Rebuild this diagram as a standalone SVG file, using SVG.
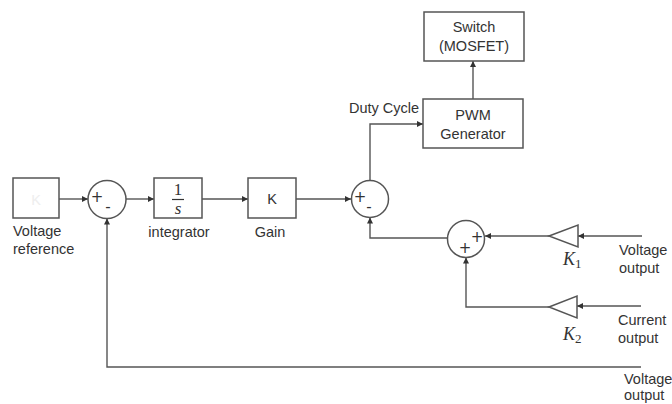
<svg xmlns="http://www.w3.org/2000/svg" width="672" height="404" viewBox="0 0 672 404">
<defs>
<marker id="arr" viewBox="0 0 10 10" refX="10" refY="5" markerWidth="6" markerHeight="6" markerUnits="userSpaceOnUse" orient="auto">
<path d="M0,0 L10,5 L0,10 z" fill="#333"/>
</marker>
<style>
.blk{fill:#fff;stroke:#555;stroke-width:1.5}
.ln{fill:none;stroke:#555;stroke-width:1.4}
.t{font-family:"Liberation Sans",Arial,sans-serif;font-size:14.5px;fill:#333}
.c{text-anchor:middle}
.m{font-family:"Liberation Serif","Times New Roman",serif;font-style:italic;fill:#333}
.sg{font-family:"DejaVu Sans",sans-serif;font-size:15px;fill:#333;text-anchor:middle}
</style>
</defs>
<rect width="672" height="404" fill="#fff"/>

<g id="connectors" class="ln">
<line x1="59" y1="199" x2="88" y2="199" marker-end="url(#arr)"/>
<line x1="126" y1="199" x2="154" y2="199" marker-end="url(#arr)"/>
<line x1="202" y1="199" x2="248" y2="199" marker-end="url(#arr)"/>
<line x1="296" y1="199" x2="351" y2="199" marker-end="url(#arr)"/>
<polyline points="370,180.5 370,124 423,124" marker-end="url(#arr)"/>
<line x1="473" y1="99" x2="473" y2="61" marker-end="url(#arr)"/>
<line x1="642" y1="236" x2="578" y2="236" marker-end="url(#arr)"/>
<line x1="549" y1="236" x2="485" y2="236" marker-end="url(#arr)"/>
<polyline points="447.5,238 370,238 370,217.5" marker-end="url(#arr)"/>
<line x1="641" y1="306" x2="577" y2="306" marker-end="url(#arr)"/>
<polyline points="549,307 466,307 466,257.5" marker-end="url(#arr)"/>
<polyline points="641,367 107,367 107,218.5" marker-end="url(#arr)"/>
</g>

<g id="vref">
<rect class="blk" x="13" y="178" width="46" height="40"/>
<text class="t c" x="36" y="205" style="fill:#eeeeee">K</text>
<text class="t" x="13" y="236">Voltage</text>
<text class="t" x="13" y="254">reference</text>
</g>

<g id="sum1">
<circle class="blk" cx="107" cy="199.5" r="19"/>
<text class="sg" x="97" y="202">+</text>
<text class="sg" x="108" y="212">-</text>
</g>

<g id="integrator">
<rect class="blk" x="154" y="178" width="48" height="40"/>
<text class="m c" x="178" y="195" font-size="17" style="font-style:normal">1</text>
<line x1="172" y1="199.5" x2="184" y2="199.5" stroke="#333" stroke-width="1.2"/>
<text class="m c" x="178" y="214" font-size="17">s</text>
<text class="t c" x="179" y="237">integrator</text>
</g>

<g id="gain">
<rect class="blk" x="248" y="178" width="48" height="40"/>
<text class="t c" x="272" y="204">K</text>
<text class="t c" x="270" y="237">Gain</text>
</g>

<g id="sum2">
<circle class="blk" cx="370" cy="199" r="18.5"/>
<text class="sg" x="360" y="202">+</text>
<text class="sg" x="369" y="212">-</text>
</g>

<g id="pwm">
<rect class="blk" x="423" y="99" width="100" height="49"/>
<text class="t c" x="473" y="120">PWM</text>
<text class="t c" x="473" y="139">Generator</text>
<text class="t" x="349" y="113">Duty Cycle</text>
</g>

<g id="switch">
<rect class="blk" x="424" y="12" width="100" height="49"/>
<text class="t c" x="474" y="32">Switch</text>
<text class="t c" x="474" y="51">(MOSFET)</text>
</g>

<g id="sum3">
<circle class="blk" cx="466" cy="239" r="18.5"/>
<text class="sg" x="477" y="242">+</text>
<text class="sg" x="465" y="253">+</text>
</g>

<g id="k1">
<polygon class="blk" points="549,236 578,225 578,247"/>
<text class="m" x="563" y="265" font-size="18">K<tspan font-size="13" dy="3" style="font-style:normal">1</tspan></text>
<text class="t" x="619" y="255">Voltage</text>
<text class="t" x="619" y="273">output</text>
</g>

<g id="k2">
<polygon class="blk" points="549,307 577,296 577,318"/>
<text class="m" x="563" y="340" font-size="18">K<tspan font-size="13" dy="3" style="font-style:normal">2</tspan></text>
<text class="t" x="618" y="325">Current</text>
<text class="t" x="618" y="343">output</text>
</g>

<g id="vout">
<text class="t" x="624" y="384">Voltage</text>
<text class="t" x="624" y="400">output</text>
</g>
</svg>
